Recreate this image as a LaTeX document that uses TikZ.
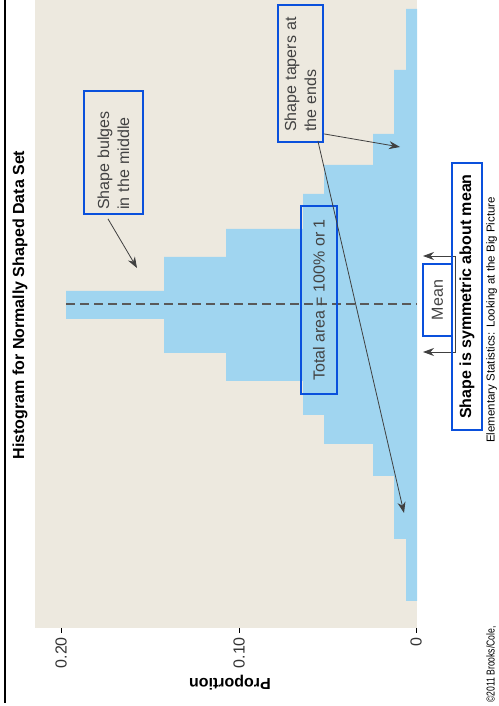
\documentclass[tikz,border=0pt]{standalone}
\usepackage{fontspec}
\setmainfont{Liberation Sans}
\usepackage{tikz}
\usetikzlibrary{calc,arrows.meta}
\definecolor{plotBg}{RGB}{237,233,223}
\definecolor{barBlue}{RGB}{160,213,240}
\definecolor{boxBlue}{RGB}{10,80,220}
\definecolor{noteGray}{RGB}{66,66,66}
\newcommand{\noteFont}{\fontsize{16}{20}\selectfont}
\tikzset{
  callout/.style={draw=boxBlue, line width=1.8pt, rotate=90, inner sep=4pt, text=noteGray, font=\noteFont},
  pointer/.style={->, draw=black!75, line width=0.8pt},
  ticklab/.style={rotate=90, anchor=east, inner sep=0pt, text=black!80, font=\noteFont},
  credit/.style={rotate=90, anchor=base west, inner sep=0pt, font=\fontsize{11.5}{14}\selectfont}
}

\begin{document}
\begin{tikzpicture}[x=1pt, y=1pt, >={Stealth[length=11pt, width=8pt]}]
    \useasboundingbox (0,0) rectangle (498,706);

    % Rule at the left edge
    \draw[line width=1.2pt] (5,3) -- (5,706);

    % Plot area
    \fill[plotBg] (35,78) rectangle (417,706);

    % Histogram (bars grow to the left from proportion 0)
    \fill[barBlue] (417,697) -- (406,697) -- (406,636) -- (394,636) -- (394,572)
        -- (373,572) -- (373,541) -- (324,541) -- (324,512) -- (303,512)
        -- (303,477) -- (226,477) -- (226,449) -- (164,449) -- (164,415)
        -- (66,415) -- (66,387) -- (164,387) -- (164,353) -- (226,353)
        -- (226,325) -- (303,325) -- (303,291) -- (324,291) -- (324,262)
        -- (373,262) -- (373,230) -- (394,230) -- (394,167) -- (406,167)
        -- (406,105) -- (417,105) -- cycle;

    % Mean line
    \draw[black!65, line width=1.2pt, dash pattern=on 9pt off 5pt] (66,402) -- (417,402);

    % Proportion axis
    \draw[line width=0.8pt] (61,78) -- (61,73);
    \draw[line width=0.8pt] (239,78) -- (239,73);
    \draw[line width=0.8pt] (416,78) -- (416,73);
    \node[ticklab] (t20) at (61,69) {0.20};
    \node[ticklab] (t10) at (239,69) {0.10};
    \node[ticklab] (t0) at (416,69) {0};
    \node[rotate=180, font=\noteFont\bfseries] (ylab) at (230,23) {Proportion};

    % Title
    \node[rotate=90, font=\noteFont\bfseries] (title) at (20,401) {Histogram for Normally Shaped Data Set};

    % Callouts
    \node[callout, text width=115pt, align=left, minimum height=59pt] (bulge) at (113.5,553.5)
        {Shape bulges\\in the middle};
    \node[callout, inner xsep=10pt, text width=117pt, align=left, minimum height=45pt] (taper) at (300.5,632.5)
        {Shape tapers at\\the ends};
    \node[callout, minimum width=188pt, minimum height=36pt] (total) at (319,406)
        {Total area = 100\% or 1};
    \node[callout, fill=white, minimum width=72pt, minimum height=29pt] (mean) at (437.5,406) {Mean};

    % Arrow heads of the callouts
    \coordinate (bulgeTip) at (137,438);
    \coordinate (taperTop) at (400,559);
    \coordinate (taperLow) at (404,193);
    \coordinate (meanHi) at (423,450);
    \coordinate (meanLo) at (423,354);

    \draw[pointer] ($(bulge.west)+(-5.5,-4)$) -- (bulgeTip);
    \draw[pointer] ($(taper.south west)+(0,9)$) -- (taperTop);
    \draw[pointer] ($(taper.south west)+(-6,2)$) -- (taperLow);
    \draw[pointer, <->] (meanHi) -- ++(32,0) |- (meanLo);

    % Symmetry note
    \node[callout, text=black, font=\noteFont\bfseries, minimum width=267pt, minimum height=30pt] (sym) at (467,409.5)
        {Shape is symmetric about mean};

    % Source line
    \node[credit] (book) at (494.5,263) {Elementary Statistics: Looking at the Big Picture};
    \node[credit, xscale=0.75] (copy) at (494.5,3) {©2011 Brooks/Cole,};
\end{tikzpicture}
\end{document}
